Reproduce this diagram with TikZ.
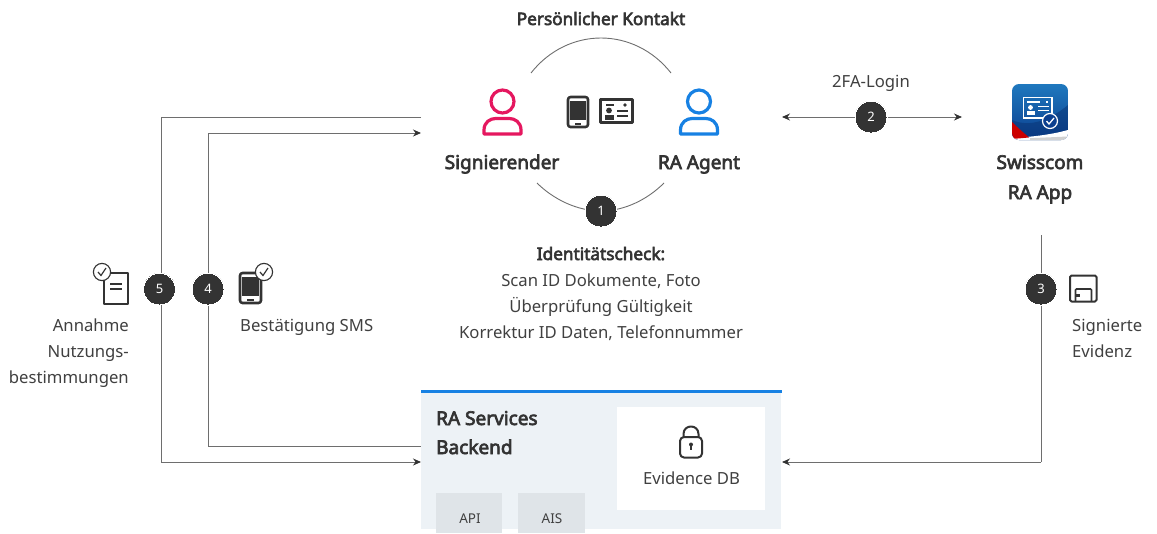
\documentclass[tikz,border=0pt]{standalone}
\usepackage{fontspec}
\setmainfont{Noto Sans}
\newfontfamily\heavyf[FakeBold=3.5]{Noto Sans}
\usetikzlibrary{arrows.meta}
\definecolor{ink}{HTML}{333333}
\definecolor{txt}{HTML}{404040}
\definecolor{linec}{HTML}{6E6E6E}
\definecolor{pinkc}{HTML}{E5175F}
\definecolor{bluec}{HTML}{1781E3}
\definecolor{panel}{HTML}{EDF2F6}
\definecolor{chip}{HTML}{DFE4E8}
\definecolor{apptop}{HTML}{1F78BE}
\definecolor{appbot}{HTML}{0B3F8F}
\tikzset{
  conn/.style={draw=linec,line width=0.9pt},
  tip/.style={-{Stealth[length=8pt,width=7pt,color=ink]}},
  tipb/.style={{Stealth[length=8pt,width=7pt,color=ink]}-{Stealth[length=8pt,width=7pt,color=ink]}},
  badge/.style={circle,fill=ink,draw=white,line width=0pt,minimum size=32pt,inner sep=0pt,text=white,font=\fontsize{13}{13}\selectfont},
  lab/.style={text=txt,font=\fontsize{16.7}{16.7}\selectfont,inner sep=0pt,anchor=base},
  labb/.style={lab,text=ink,font=\fontsize{19}{19}\heavyf},
  labs/.style={lab,text=ink,font=\fontsize{17.2}{17.2}\heavyf},
  icon/.style={draw=ink,line width=2.6pt,line join=round},
  thinicon/.style={draw=ink,line width=1.1pt},
}
\newcommand{\persicon}[2]{%
  \draw[#2,line width=3.2pt] (#1,101.5) circle[radius=11.5];
  \draw[#2,line width=3.2pt,line join=round] (#1-18.5,134) -- (#1+18.5,134) -- (#1+18.5,130)
     .. controls (#1+18.5,122) and (#1+12,118.5) .. (#1+7,118.5) -- (#1-7,118.5)
     .. controls (#1-12,118.5) and (#1-18.5,122) .. (#1-18.5,130) -- cycle;}
\newcommand{\phoneicon}[4]{% x0 y0 x1 y1
  \draw[icon,rounded corners=2.5pt] (#1,#2) rectangle (#3,#4);
  \fill[ink] (#1+2,#2+4) rectangle (#3-2,#4-7);
  \fill[ink] (#1+7,#4-4.5) rectangle (#3-7,#4-2.5);}
\newcommand{\checkcirc}[2]{%
  \draw[draw=ink,fill=white,line width=1.1pt] (#1,#2) circle[radius=8.6];
  \draw[draw=ink,line width=1.2pt] (#1-4,#2) -- (#1-1,#2+3.5) -- (#1+4,#2-4);}
\begin{document}
\begin{tikzpicture}[x=1pt,y=-1pt]
\useasboundingbox (0,0) rectangle (1157,533);
% panel
\node[fill=panel,minimum width=360pt,minimum height=137pt,inner sep=0pt,outer sep=0pt,anchor=north west] (backend) at (421,392) {};
\draw[bluec,line width=3pt] (421,391.5) -- (782,391.5);
\node[fill=white,minimum width=148pt,minimum height=103pt,inner sep=0pt,anchor=north west] (evidence) at (617,407) {};
\fill[chip] (436,493) rectangle (502,533);
\fill[chip] (518,493) rectangle (585,533);
% coordinates
\coordinate (a5) at (421,117);
\coordinate (c5t) at (161,117);
\coordinate (c5b) at (161,462);
\coordinate (b5) at (421,462);
\coordinate (a4) at (421,133);
\coordinate (c4t) at (208,133);
\coordinate (c4b) at (208,446);
\coordinate (b4) at (421,446);
\coordinate (a2) at (782,117);
\coordinate (b2) at (962,117);
\coordinate (a3) at (1041,235);
\coordinate (c3) at (1041,462);
\coordinate (b3) at (782,462);
\draw[conn] (a5) -- (c5t) -- (c5b);
\draw[conn,tip] (c5b) -- (b5);
\draw[conn,tip] (c4t) -- (a4);
\draw[conn] (c4t) -- (c4b) -- (b4);
\draw[conn,tipb] (a2) -- (b2);
\draw[conn] (a3) -- (c3);
\draw[conn,tip] (c3) -- (b3);
% arcs
\draw[conn] (531,73) .. controls (549,50) and (575,38) .. (601,38) .. controls (627,38) and (653,50) .. (671,73);
\draw[conn] (537,183) .. controls (553,199) and (577,211) .. (601,211) .. controls (625,211) and (648,199) .. (664,183);
% badges
\node[badge] (n1) at (601,211) {1};
\node[badge] (n2) at (871,117) {2};
\node[badge] (n3) at (1041,289) {3};
\node[badge] (n4) at (208,289) {4};
\node[badge] (n5) at (159.5,289) {5};
% person icons
\persicon{502.5}{pinkc}
\persicon{699}{bluec}
\phoneicon{568}{97}{588}{127}
% id card
\draw[icon,line width=2.2pt] (600.5,99.5) rectangle (632.5,122.5);
\fill[ink] (606,103.5) rectangle (614,106);
\fill[ink] (625,105) circle[radius=1.8];
\fill[ink] (609,110.5) circle[radius=2.9];
\fill[ink] (604.5,119.5) rectangle (613.5,114.5);
\fill[ink] (617,110) rectangle (628,112);
\fill[ink] (617,115) rectangle (628,117);
% app icon
\begin{scope}
\clip[rounded corners=7pt] (1012,84) rectangle (1068,140);
\shade[top color=apptop,bottom color=appbot] (1012,84) rectangle (1068,140);
\fill[appbot!80!black,opacity=.5] (1012,120) .. controls (1030,128) and (1050,120) .. (1068,105) -- (1068,140) -- (1012,140) -- cycle;
\fill[white] (1012,138) .. controls (1030,137) and (1050,135) .. (1068,130) -- (1068,140) -- (1012,140) -- cycle;
\fill[black!18] (1030,138.2) -- (1068,136.5) -- (1068,140) -- (1030,140) -- cycle;
\fill[red!80!black] (1012,122) .. controls (1018,128) and (1024,133) .. (1029,137.5) -- (1012,139) -- cycle;
\end{scope}
\draw[draw=white,line width=1.2pt] (1023.5,97.5) rectangle (1052,118);
\fill[white] (1027,101) rectangle (1040,103);
\fill[white] (1046,101) rectangle (1048,103);
\fill[white] (1030.5,107.5) circle[radius=2.4];
\fill[white] (1026.5,115) rectangle (1035,111);
\fill[white] (1038,106) rectangle (1049,107);
\fill[white] (1038,110) rectangle (1049,111);
\draw[draw=white,fill=appbot,line width=1.2pt] (1050,121) circle[radius=7.5];
\draw[draw=white,line width=1.3pt] (1046.5,121) -- (1049,124) -- (1054,118);
% save icon
\draw[icon,line width=2pt,rounded corners=1.5pt] (1070,275.5) rectangle (1096.5,301.5);
\draw[thinicon,line width=1.6pt,rounded corners=1pt] (1075.5,301) -- (1075.5,289) -- (1091.5,289) -- (1091.5,301);
\fill[ink] (1076,294) rectangle (1080,297);
% doc icon
\draw[icon,line width=2pt] (104,272.5) rectangle (128,304);
\fill[ink] (110,283) rectangle (122,284.8);
\fill[ink] (110,288) rectangle (122,289.8);
\checkcirc{102}{272}
% phone with check
\phoneicon{240}{273}{261}{303}
\checkcirc{264}{272}
% lock
\draw[icon,line width=2pt,rounded corners=4pt] (680,437) rectangle (702,457.5);
\draw[icon,line width=2pt] (683.5,437) -- (683.5,434) .. controls (683.5,424) and (698.5,424) .. (698.5,434) -- (698.5,437);
\fill[ink] (691,444.5) circle[radius=2];
\fill[ink] (690.2,445) rectangle (691.8,450);
% labels
\node[labs] (t1) at (601,25) {Persönlicher Kontakt};
\node[labb] (t2) at (502,169) {Signierender};
\node[labb] (t3) at (699,169) {RA Agent};
\node[labb] (t4) at (1040,169) {Swisscom};
\node[labb] (t5) at (1040,199) {RA App};
\node[lab] (t6) at (871,87) {2FA-Login};
\node[labs] (t7) at (601,260) {Identitätscheck:};
\node[lab] (t8) at (601,286) {Scan ID Dokumente, Foto};
\node[lab] (t9) at (601,312) {Überprüfung Gültigkeit};
\node[lab] (t10) at (601,338) {Korrektur ID Daten, Telefonnummer};
\node[lab,anchor=base east] (t11) at (129,331) {Annahme};
\node[lab,anchor=base east] (t12) at (129,357) {Nutzungs-};
\node[lab,anchor=base east] (t13) at (129,383) {bestimmungen};
\node[lab,anchor=base west] (t14) at (240,331) {Bestätigung SMS};
\node[lab,anchor=base west] (t15) at (1072,331) {Signierte};
\node[lab,anchor=base west] (t16) at (1072,357) {Evidenz};
\node[labb,anchor=base west] (t17) at (436,425) {RA Services};
\node[labb,anchor=base west] (t18) at (436,454) {Backend};
\node[lab] (t19) at (691.5,484) {Evidence DB};
\node[lab,font=\fontsize{13.5}{13.5}\selectfont] (t20) at (470,523) {API};
\node[lab,font=\fontsize{13.5}{13.5}\selectfont] (t21) at (552,523) {AIS};
\end{tikzpicture}
\end{document}
